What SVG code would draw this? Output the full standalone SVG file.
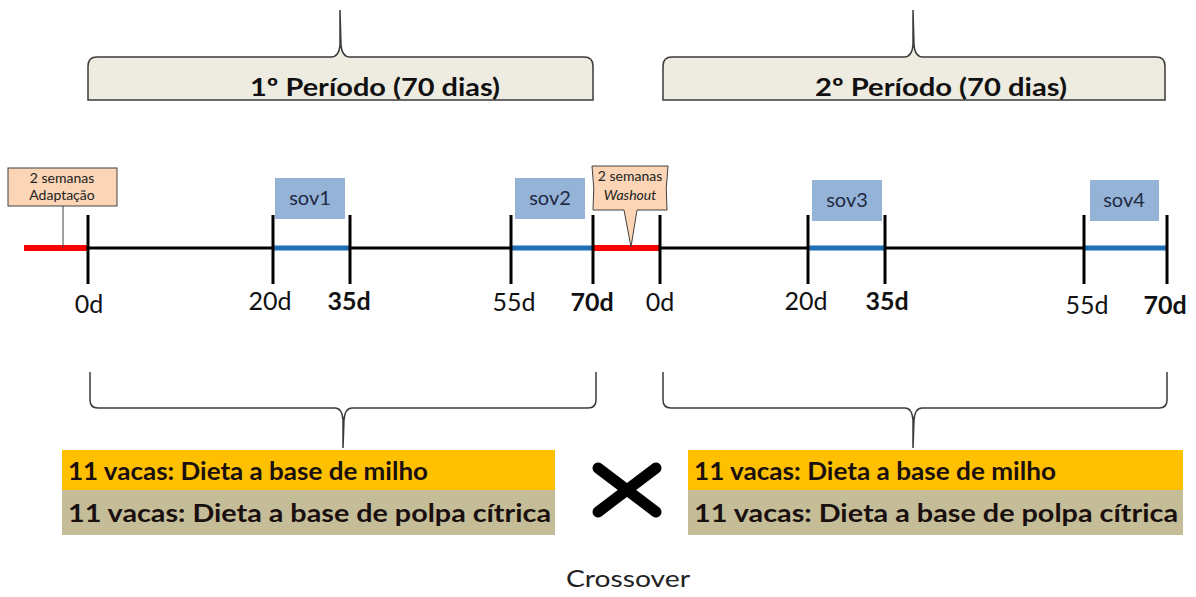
<svg xmlns="http://www.w3.org/2000/svg" width="1196" height="597" viewBox="0 0 1196 597">
<style>
.brace{fill:#EEECE1;stroke:#3a3a3a;stroke-width:1.5}
.bbrace{fill:none;stroke:#3a3a3a;stroke-width:1.5}
.ptitle{font-family:Lato,"Liberation Sans",sans-serif;font-weight:bold;font-size:25px;fill:#111}
.tick{stroke:#000;stroke-width:3}
.axis{stroke:#000;stroke-width:3}
.red{stroke:#FF0000;stroke-width:6}
.blue{stroke:#1F6FB5;stroke-width:5}
.lbl{font-family:Lato,"Liberation Sans",sans-serif;font-size:25px;fill:#111;text-anchor:middle}
.b{font-weight:bold}
.sov{fill:#95B3D7}
.sovt{font-family:Lato,"Liberation Sans",sans-serif;font-size:20px;fill:#1F2A44;text-anchor:middle}
.call{fill:#FBD5B5;stroke:#404040;stroke-width:1}
.callt{font-family:Lato,"Liberation Sans",sans-serif;font-size:14px;fill:#222;text-anchor:middle}
.yel{fill:#FFC000}
.gry{fill:#C4BD97}
.boxt{font-family:Lato,"Liberation Sans",sans-serif;font-weight:bold;font-size:24px;fill:#1a0f0f}
.cross{fill:none;stroke:#000;stroke-width:11;stroke-linecap:round}
</style>

<g id="periodo1">
<path class="brace" d="M88,100 L88,66 Q88,57 97,57 L331,57 Q339,57 340,45 L340,10 L341,45 Q342,57 350,57 L584,57 Q593,57 593,66 L593,100 Z"/>
<text class="ptitle" x="375" y="96" text-anchor="middle" textLength="250" lengthAdjust="spacingAndGlyphs">1º Período (70 dias)</text>
</g>
<g id="periodo2">
<path class="brace" d="M663,100 L663,66 Q663,57 672,57 L904,57 Q912,57 913,45 L913,10 L914,45 Q915,57 923,57 L1156,57 Q1165,57 1165,66 L1165,100 Z"/>
<text class="ptitle" x="941" y="96" text-anchor="middle" textLength="252" lengthAdjust="spacingAndGlyphs">2º Período (70 dias)</text>
</g>

<g id="connectors">
<line class="axis" x1="24" y1="248" x2="1167" y2="248"/>
<line class="red" x1="24" y1="248" x2="88" y2="248"/>
<line class="red" x1="593" y1="248" x2="660" y2="248"/>
<line class="blue" x1="273" y1="248" x2="350" y2="248"/>
<line class="blue" x1="511" y1="248" x2="593" y2="248"/>
<line class="blue" x1="808" y1="248" x2="885" y2="248"/>
<line class="blue" x1="1084" y1="248" x2="1167" y2="248"/>
<line class="tick" x1="88" y1="215" x2="88" y2="284"/>
<line class="tick" x1="273" y1="215" x2="273" y2="284"/>
<line class="tick" x1="350" y1="215" x2="350" y2="284"/>
<line class="tick" x1="511" y1="215" x2="511" y2="284"/>
<line class="tick" x1="593" y1="215" x2="593" y2="284"/>
<line class="tick" x1="660" y1="215" x2="660" y2="284"/>
<line class="tick" x1="808" y1="215" x2="808" y2="284"/>
<line class="tick" x1="885" y1="215" x2="885" y2="284"/>
<line class="tick" x1="1084" y1="215" x2="1084" y2="284"/>
<line class="tick" x1="1167" y1="215" x2="1167" y2="284"/>
<line x1="63" y1="206" x2="63" y2="248" stroke="#404040" stroke-width="1"/>
<path class="bbrace" d="M90,372 L90,400 Q90,408 98,408 L335,408 Q342,408 343,420 L343,448 M343,448 L344,420 Q345,408 352,408 L588,408 Q596,408 596,400 L596,372"/>
<path class="bbrace" d="M663,372 L663,400 Q663,408 671,408 L905,408 Q912,408 913,420 L913,448 M913,448 L914,420 Q915,408 922,408 L1159,408 Q1167,408 1167,400 L1167,372"/>
</g>

<g id="labels">
<text class="lbl" x="89" y="313">0d</text>
<text class="lbl" x="270" y="310">20d</text>
<text class="lbl b" x="349" y="310">35d</text>
<text class="lbl" x="514" y="311">55d</text>
<text class="lbl b" x="592" y="311">70d</text>
<text class="lbl" x="660" y="311">0d</text>
<text class="lbl" x="806" y="310">20d</text>
<text class="lbl b" x="887" y="310">35d</text>
<text class="lbl" x="1087" y="314">55d</text>
<text class="lbl b" x="1165" y="314">70d</text>
</g>

<g id="adaptacao">
<rect class="call" x="8" y="168" width="109" height="38"/>
<text class="callt" x="62" y="183">2 semanas</text>
<text class="callt" x="62" y="200">Adaptação</text>
</g>
<g id="washout">
<path class="call" d="M592,166 L668,166 Q665,188 667,210 L637,210 L631,247 L624,210 L593,210 Q595,188 592,166 Z"/>
<text class="callt" x="630" y="181">2 semanas</text>
<text class="callt" x="630" y="200" font-style="italic">Washout</text>
</g>

<g id="sov1"><rect class="sov" x="275" y="178" width="70" height="41"/><text class="sovt" x="310" y="205">sov1</text></g>
<g id="sov2"><rect class="sov" x="515" y="178" width="70" height="41"/><text class="sovt" x="550" y="205">sov2</text></g>
<g id="sov3"><rect class="sov" x="812" y="180" width="70" height="41"/><text class="sovt" x="847" y="207">sov3</text></g>
<g id="sov4"><rect class="sov" x="1090" y="180" width="69" height="41"/><text class="sovt" x="1124" y="207">sov4</text></g>

<g id="grupo1">
<rect class="yel" x="62" y="450" width="493" height="40"/>
<rect class="gry" x="62" y="490" width="493" height="45"/>
<text class="boxt" x="68" y="480" textLength="360" lengthAdjust="spacingAndGlyphs">11 vacas: Dieta a base de milho</text>
<text class="boxt" x="68" y="522" textLength="483" lengthAdjust="spacingAndGlyphs">11 vacas: Dieta a base de polpa cítrica</text>
</g>
<g id="grupo2">
<rect class="yel" x="688" y="450" width="495" height="40"/>
<rect class="gry" x="688" y="490" width="495" height="45"/>
<text class="boxt" x="694" y="480" textLength="362" lengthAdjust="spacingAndGlyphs">11 vacas: Dieta a base de milho</text>
<text class="boxt" x="694" y="522" textLength="484" lengthAdjust="spacingAndGlyphs">11 vacas: Dieta a base de polpa cítrica</text>
</g>

<g id="crossover">
<path class="cross" d="M598,468 L656,512 M656,468 L598,512"/>
<text x="628" y="587" font-family="Lato,'Liberation Sans',sans-serif" font-size="24" fill="#222" text-anchor="middle" textLength="124" lengthAdjust="spacingAndGlyphs">Crossover</text>
</g>
</svg>
